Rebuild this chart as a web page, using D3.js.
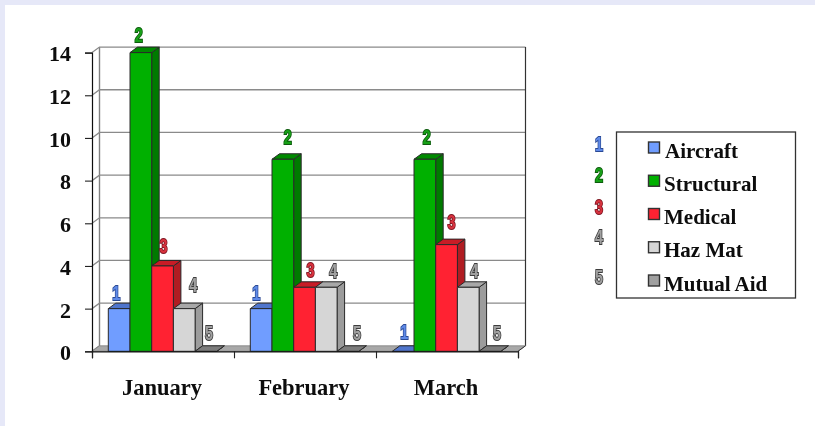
<!DOCTYPE html>
<html><head><meta charset="utf-8">
<script src="https://cdnjs.cloudflare.com/ajax/libs/d3/7.8.5/d3.min.js"></script>
<style>html,body{margin:0;padding:0;background:#fff;overflow:hidden}svg{display:block}</style>
</head><body><svg id="c" width="815" height="426"></svg>
<script>
const categories = ["January","February","March"];
const seriesNames = ["Aircraft","Structural","Medical","Haz Mat","Mutual Aid"];
const seriesLabels = ["1","2","3","4","5"];
const aircraft = [2,2,0];
const structural = [14,9,9];
const medical = [4,3,5];
const hazMat = [2,3,3];
const mutualAid = [0,0,0];
const seriesValues = [aircraft,structural,medical,hazMat,mutualAid];
const yTicks = [0,2,4,6,8,10,12,14];
const frontColors = ["#6f9dff","#00b000","#ff2233","#d6d6d6","#a0a0a0"];
const topColors = ["#4f74cc","#008a00","#c81c28","#a8a8a8","#7c7c7c"];
const sideColors = ["#3f5ea8","#007a00","#b01a24","#9c9c9c","#6e6e6e"];
const labelStroke = ["#2c4a94","#0a5a0a","#7c1420","#3c3c3c","#3c3c3c"];
const labelFill = ["#5f8ae8","#18a018","#d8323e","#a0a0a0","#a0a0a0"];
// placement of each value label relative to its bar (category, then series)
const labelDx = [[-3,-2,1,9,3],[-5,5,6,7,9],[1,2,5,6,7]];
const labelDy = [[-16,-18,-20,-24,-19],[-16,-22,-18,-17,-19],[-20,-22,-23,-17,-19]];
const legendNumY = [144,175,207,237,277];

const svg = d3.select("#c");
svg.append("rect").attr("width",815).attr("height",426).attr("fill","#fff");
svg.append("rect").attr("width",815).attr("height",5).attr("fill","#e6e8f8");
svg.append("rect").attr("width",5).attr("height",426).attr("fill","#e6e8f8");
const defs = svg.append("defs");
defs.append("filter").attr("id","soft").attr("x","-5%").attr("y","-5%").attr("width","110%").attr("height","110%")
  .append("feGaussianBlur").attr("stdDeviation",0.4);
const root = svg.append("g").attr("filter","url(#soft)");

const DX=7.5, DY=-5.5;
const x0 = d3.scaleBand().domain(categories).range([92,518]);
const x1 = d3.scaleBand().domain(d3.range(5)).range([16.3,16.3+108.5]);
const y = d3.scaleLinear().domain([0,14]).range([351.3,52.6]);
const g = root.append("g");

function numeral(parent,xc,yc,si){
  parent.append("text").attr("transform",`translate(${xc},${yc}) scale(0.72,1)`)
    .attr("text-anchor","middle").attr("dy","0.36em")
    .attr("font-family","Liberation Sans").attr("font-weight","bold").attr("font-size",20)
    .attr("fill",labelFill[si]).attr("stroke",labelStroke[si]).attr("stroke-width",2).attr("paint-order","stroke").text(seriesLabels[si]);
}

// walls
g.append("path").attr("d",`M${92},${y(0)}L${92+DX},${y(0)+DY}L${92+DX},${y(14)+DY}`).attr("fill","none").attr("stroke","#808080").attr("stroke-width",1.4);
g.append("path").attr("d",`M${92},${y(0)}H518L${518+DX},${y(0)+DY}H${92+DX}Z`).attr("fill","#a8a8a8").attr("stroke","#808080").attr("stroke-width",.8);
yTicks.filter(d=>d>0).forEach(d=>{
  g.append("path").attr("d",`M${92},${y(d)}L${92+DX},${y(d)+DY}H${518+DX}`).attr("fill","none").attr("stroke","#8a8a8a").attr("stroke-width",1.3);
});
g.append("line").attr("x1",518+DX).attr("x2",518+DX).attr("y1",y(14)+DY).attr("y2",y(0)+DY).attr("stroke","#333").attr("stroke-width",1.2);
g.append("line").attr("x1",518).attr("x2",518+DX).attr("y1",y(0)).attr("y2",y(0)+DY).attr("stroke","#333").attr("stroke-width",1);

// bars
const bw = x1.bandwidth();
categories.forEach((c,ci)=>{
  seriesValues.forEach((vals,si)=>{
    const v = vals[ci], xl = x0(c)+x1(si), xr = xl+bw, yt = y(v), yb = y(0);
    const bar = g.append("g").attr("stroke","#2a2a2a").attr("stroke-width",1).attr("stroke-linejoin","round");
    bar.append("path").attr("d",`M${xr},${yb}L${xr+DX},${yb+DY}V${yt+DY}L${xr},${yt}Z`).attr("fill",sideColors[si]);
    bar.append("path").attr("d",`M${xl},${yt}L${xl+DX},${yt+DY}H${xr+DX}L${xr},${yt}Z`).attr("fill",topColors[si]);
    if(v>0) bar.append("rect").attr("x",xl).attr("y",yt).attr("width",bw).attr("height",yb-yt).attr("fill",frontColors[si]);
  });
});
// value labels
categories.forEach((c,ci)=>{
  seriesValues.forEach((vals,si)=>{
    numeral(g, x0(c)+x1(si)+bw/2+labelDx[ci][si], y(vals[ci])+labelDy[ci][si], si);
  });
});

// axes
const yAxis = d3.axisLeft(y).tickValues(yTicks).tickSize(7).tickPadding(14).tickFormat(d3.format("d"));
const ya = root.append("g").attr("transform","translate(92,0)").call(yAxis);
ya.select(".domain").attr("stroke","#111").attr("stroke-width",1.2);
ya.selectAll("line").attr("stroke","#222").attr("stroke-width",1.1);
ya.selectAll("text").attr("font-family","Liberation Serif").attr("font-weight","bold").attr("font-size",22).attr("fill","#0a0a0a").attr("dy","0.38em");

const xAxis = d3.axisBottom(d3.scaleLinear().domain([0,3]).range([92,518])).tickValues([0,1,2,3]).tickSize(7).tickFormat("");
const xa = root.append("g").attr("transform",`translate(0,${y(0)})`).call(xAxis);
xa.select(".domain").attr("stroke","#111").attr("stroke-width",1.2);
xa.selectAll("line").attr("stroke","#222").attr("stroke-width",1.1);
categories.forEach(c=>{
  root.append("text").attr("x",x0(c)+x0.bandwidth()/2-1).attr("y",395).attr("text-anchor","middle")
    .attr("font-family","Liberation Serif").attr("font-weight","bold").attr("font-size",22.5).attr("fill","#0a0a0a").text(c);
});

// legend
root.append("rect").attr("x",616.5).attr("y",132).attr("width",179).attr("height",166).attr("fill","#fff").attr("stroke","#333").attr("stroke-width",1.3);
const ly = d3.scalePoint().domain(seriesNames).range([150,283]);
seriesNames.forEach((n,i)=>{
  const yy = ly(n);
  root.append("rect").attr("x",648.5).attr("y",yy-8).attr("width",11).attr("height",11).attr("fill",frontColors[i]).attr("stroke","#333").attr("stroke-width",1.4);
  root.append("text").attr("x",i==0?665:664).attr("y",yy+7.5).attr("font-family","Liberation Serif").attr("font-weight","bold").attr("font-size",21).attr("fill","#0a0a0a").text(n);
  numeral(root,599,legendNumY[i],i);
});
</script></body></html>
